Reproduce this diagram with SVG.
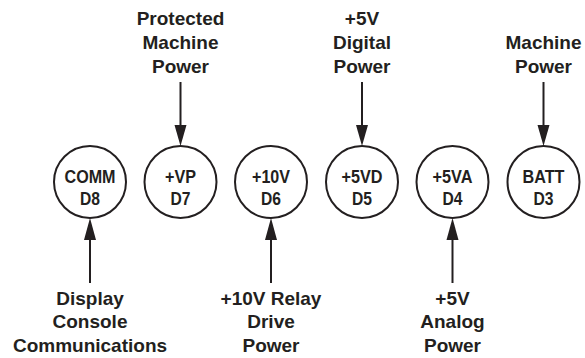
<svg xmlns="http://www.w3.org/2000/svg" width="585" height="358" viewBox="0 0 585 358">
<style>
.c{fill:#fff;stroke:#231f20;stroke-width:2}
.t{font-family:"Liberation Sans",Arial,sans-serif;font-weight:bold;font-size:19px;fill:#231f20;text-anchor:middle}
.n{font-family:"Liberation Sans",Arial,sans-serif;font-weight:bold;font-size:19px;fill:#231f20;text-anchor:middle}
.l{stroke:#231f20;stroke-width:2;fill:none}
.h{fill:#231f20;stroke:none}
</style>
<rect width="585" height="358" fill="#fff"/>
<g id="connectors">
<line class="l" x1="180.5" y1="82" x2="180.5" y2="128"/><polygon class="h" points="174.5,125 186.5,125 180.5,146"/>
<line class="l" x1="362" y1="82" x2="362" y2="128"/><polygon class="h" points="356,125 368,125 362,146"/>
<line class="l" x1="543.5" y1="82" x2="543.5" y2="128"/><polygon class="h" points="537.5,125 549.5,125 543.5,146"/>
<line class="l" x1="90" y1="283" x2="90" y2="236"/><polygon class="h" points="84,240 96,240 90,218"/>
<line class="l" x1="271" y1="283" x2="271" y2="236"/><polygon class="h" points="265,240 277,240 271,218"/>
<line class="l" x1="452.5" y1="283" x2="452.5" y2="236"/><polygon class="h" points="446.5,240 458.5,240 452.5,218"/>
</g>
<g id="D8"><circle class="c" cx="90" cy="182" r="36"/><text class="n" x="90" y="183" textLength="51" lengthAdjust="spacingAndGlyphs">COMM</text><text class="n" x="90" y="205" textLength="20" lengthAdjust="spacingAndGlyphs">D8</text></g>
<g id="D7"><circle class="c" cx="180.5" cy="182" r="36"/><text class="n" x="180.5" y="183" textLength="31" lengthAdjust="spacingAndGlyphs">+VP</text><text class="n" x="180.5" y="205" textLength="20" lengthAdjust="spacingAndGlyphs">D7</text></g>
<g id="D6"><circle class="c" cx="271" cy="182" r="36"/><text class="n" x="271" y="183" textLength="38" lengthAdjust="spacingAndGlyphs">+10V</text><text class="n" x="271" y="205" textLength="20" lengthAdjust="spacingAndGlyphs">D6</text></g>
<g id="D5"><circle class="c" cx="362" cy="182" r="36"/><text class="n" x="362" y="183" textLength="41" lengthAdjust="spacingAndGlyphs">+5VD</text><text class="n" x="362" y="205" textLength="20" lengthAdjust="spacingAndGlyphs">D5</text></g>
<g id="D4"><circle class="c" cx="452.5" cy="182" r="36"/><text class="n" x="452.5" y="183" textLength="40" lengthAdjust="spacingAndGlyphs">+5VA</text><text class="n" x="452.5" y="205" textLength="20" lengthAdjust="spacingAndGlyphs">D4</text></g>
<g id="D3"><circle class="c" cx="543.5" cy="182" r="36"/><text class="n" x="543.5" y="183" textLength="42" lengthAdjust="spacingAndGlyphs">BATT</text><text class="n" x="543.5" y="205" textLength="20" lengthAdjust="spacingAndGlyphs">D3</text></g>
<g id="label-vp"><text class="t" x="180.5" y="25">Protected</text><text class="t" x="180.5" y="49">Machine</text><text class="t" x="180.5" y="73">Power</text></g>
<g id="label-5vd"><text class="t" x="362" y="25">+5V</text><text class="t" x="362" y="49">Digital</text><text class="t" x="362" y="73">Power</text></g>
<g id="label-batt"><text class="t" x="543.5" y="49">Machine</text><text class="t" x="543.5" y="73">Power</text></g>
<g id="label-comm"><text class="t" x="90" y="305">Display</text><text class="t" x="90" y="328">Console</text><text class="t" x="90" y="352">Communications</text></g>
<g id="label-10v"><text class="t" x="271" y="305">+10V Relay</text><text class="t" x="271" y="328">Drive</text><text class="t" x="271" y="352">Power</text></g>
<g id="label-5va"><text class="t" x="452.5" y="305">+5V</text><text class="t" x="452.5" y="328">Analog</text><text class="t" x="452.5" y="352">Power</text></g>
</svg>
